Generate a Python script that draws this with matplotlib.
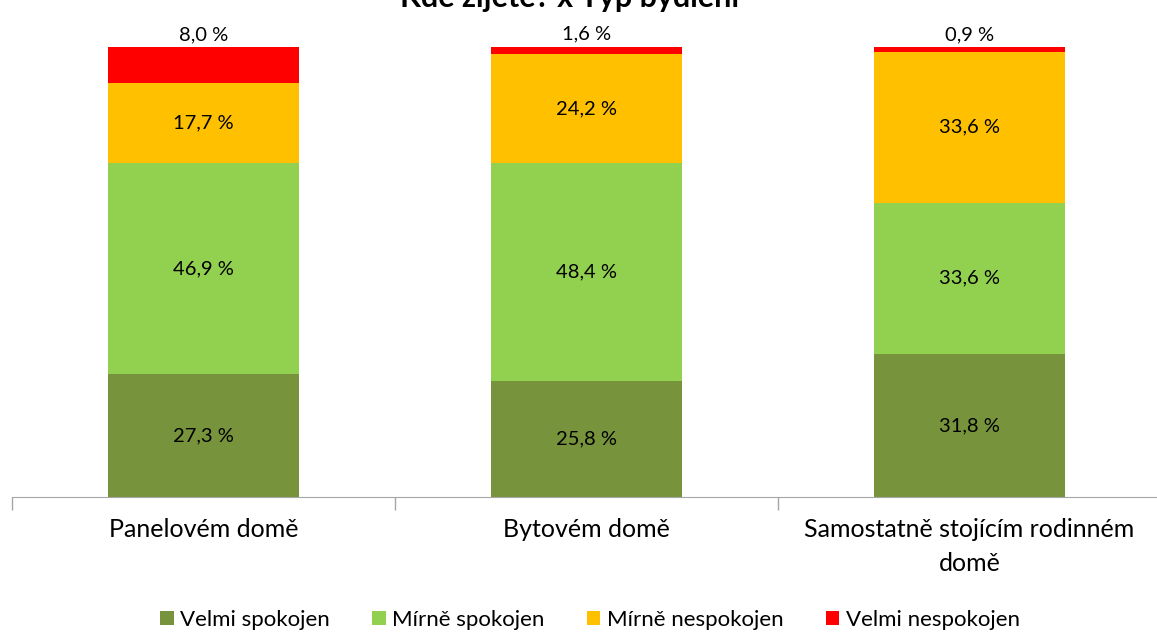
import matplotlib.pyplot as plt
import numpy as np

plt.rcParams['font.family'] = ['Lato', 'DejaVu Sans']

# data
categories = ['Panelovém domě', 'Bytovém domě', 'Samostatně stojícím rodinném\ndomě']
series = ['Velmi spokojen', 'Mírně spokojen', 'Mírně nespokojen', 'Velmi nespokojen']
velmi_spokojen = [27.3, 25.8, 31.8]
mirne_spokojen = [46.9, 48.4, 33.6]
mirne_nespokojen = [17.7, 24.2, 33.6]
velmi_nespokojen = [8.0, 1.6, 0.9]
colors = ['#77933C', '#92D050', '#FFC000', '#FF0000']

fig = plt.figure(figsize=(11.57, 6.35), dpi=100)
ax = fig.add_axes([12 / 1157, 1 - 497 / 635, 1149 / 1157, 450 / 635])

x = np.arange(len(categories))
bottom = np.zeros(len(categories))
values = [velmi_spokojen, mirne_spokojen, mirne_nespokojen, velmi_nespokojen]
for i, (name, vals, col) in enumerate(zip(series, values, colors)):
    vals = np.array(vals)
    ax.bar(x, vals, 0.5, bottom=bottom, color=col, label=name)
    for xi, b, v in zip(x, bottom, vals):
        lab = f'{v:.1f} %'.replace('.', ',')
        if i == 3:
            ax.text(xi, b + v + 1.0, lab, ha='center', va='bottom', fontsize=14.5, clip_on=False)
        else:
            ax.text(xi, b + v / 2, lab, ha='center', va='center', fontsize=14.5)
    bottom += vals

ax.set_xlim(-0.5, 2.5)
ax.set_ylim(0, 100)
ax.set_yticks([])
ax.set_xticks(x)
ax.set_xticklabels(categories, fontsize=18, linespacing=1.6)
ax.tick_params(axis='x', which='major', length=0, pad=15)
ax.set_xticks([-0.5, 0.5, 1.5, 2.5], minor=True)
ax.tick_params(axis='x', which='minor', length=9, color='#A6A6A6', width=1)
for s in ['top', 'right', 'left']:
    ax.spines[s].set_visible(False)
ax.spines['bottom'].set_color('#A6A6A6')

fig.text(0.492, 1 - 7 / 635, 'Kde žijete? x Typ bydlení', ha='center', va='baseline',
         fontsize=22, fontweight='bold')

fig.legend(loc='center', bbox_to_anchor=(0.51, 1 - 620 / 635), ncol=4, frameon=False,
           fontsize=16, handlelength=0.6, handleheight=0.6, handletextpad=0.3,
           columnspacing=1.9)

fig.savefig('out.png', dpi=100)
